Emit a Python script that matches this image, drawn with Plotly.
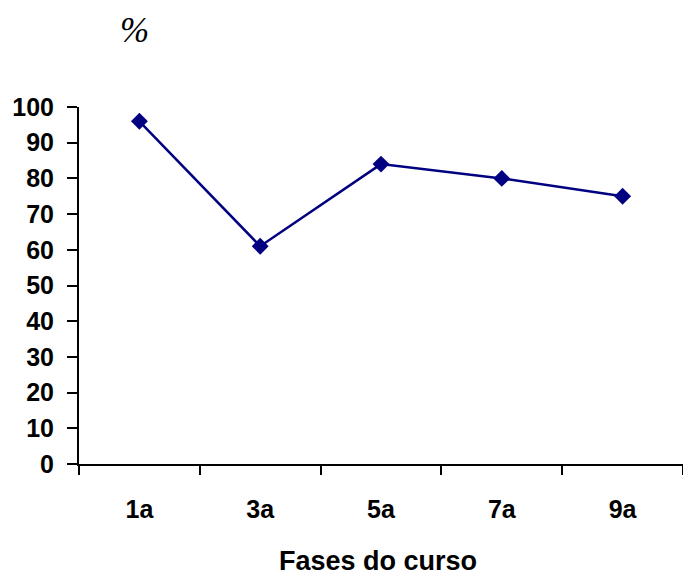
import plotly.graph_objects as go

# Percentage per course phase
fases = ["1a", "3a", "5a", "7a", "9a"]
percentual = [96, 61, 84, 80, 75]
y_ticks = list(range(0, 101, 10))

axis_font = dict(family="Liberation Sans, Arial, sans-serif", size=25,
                 color="black", weight="bold")

fig = go.Figure(
    go.Scatter(
        x=fases,
        y=percentual,
        mode="lines+markers",
        line=dict(color="#000080", width=2.5),
        marker=dict(symbol="diamond", size=13, color="#000080"),
        showlegend=False,
    )
)

left, right, top, bottom = 79, 0, 107, 114
plot_w = 683 - left - right
plot_h = 578 - top - bottom

fig.update_layout(
    width=683,
    height=578,
    margin=dict(l=left, r=right, t=top, b=bottom),
    paper_bgcolor="white",
    plot_bgcolor="white",
    xaxis=dict(
        type="category",
        range=[-0.5, 4.5],
        showline=True,
        linecolor="black",
        linewidth=2,
        ticks="outside",
        tickson="boundaries",
        ticklen=9,
        tickwidth=2,
        tickcolor="black",
        tickfont=axis_font,
        ticklabelstandoff=22,
        showgrid=False,
        zeroline=False,
    ),
    yaxis=dict(
        range=[0, 100],
        tickvals=y_ticks,
        showline=True,
        linecolor="black",
        linewidth=2,
        ticks="outside",
        ticklen=10,
        tickwidth=2,
        tickcolor="black",
        tickfont=axis_font,
        ticklabelstandoff=8,
        showgrid=False,
        zeroline=False,
    ),
    annotations=[
        # percent sign above the y axis
        dict(
            text="<i>%</i>",
            x=(134 - left) / plot_w, y=(578 - bottom - 30) / plot_h,
            xref="paper", yref="paper",
            xanchor="center", yanchor="middle",
            showarrow=False,
            font=dict(family="Liberation Serif, Times New Roman, serif",
                      size=35, color="black"),
        ),
        # x axis title
        dict(
            text="<b>Fases do curso</b>",
            x=(378 - left) / plot_w, y=-(561 - (578 - bottom)) / plot_h,
            xref="paper", yref="paper",
            xanchor="center", yanchor="middle",
            borderpad=0,
            showarrow=False,
            font=dict(family="Liberation Sans, Arial, sans-serif",
                      size=27, color="black"),
        ),
    ],
)

fig.write_html("out.html")
